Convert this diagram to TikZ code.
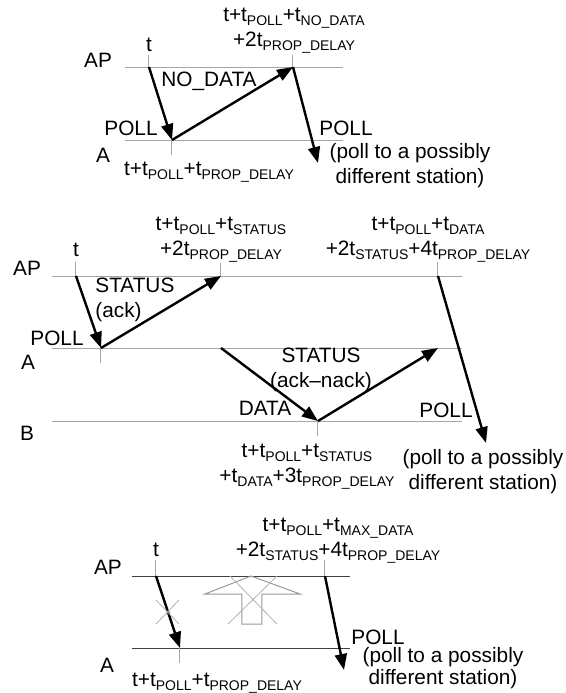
\documentclass[tikz,border=0pt]{standalone}
\usepackage{fontspec}
\setmainfont{Liberation Sans}
\usetikzlibrary{arrows.meta}
\newcommand{\tsub}[1]{t\raisebox{-0.35ex}{\fontsize{7}{8}\selectfont #1}}

\begin{document}
\begin{tikzpicture}[x=0.5pt,y=-0.5pt,
    every node/.style={font=\fontsize{10.4}{12.5}\selectfont, inner sep=0pt, align=center},
    timeline/.style={gray!70, line width=0.5pt},
    timetick/.style={gray!70, line width=0.5pt},
    msg/.style={line width=1.2pt, -{Triangle[length=8pt,width=6pt]}},
    crossout/.style={gray!60, line width=0.4pt}]
    \useasboundingbox (0,0) rectangle (566,693);

    % Panel 1: no data
    \draw[timeline] (125,67) -- (343,67);
    \draw[timeline] (125,140) -- (343,140);
    \node (apone) at (98,60) {AP};
    \node (aone) at (103,155) {A};
    \coordinate (pollone) at (149,67);
    \coordinate (recvone) at (172,140);
    \coordinate (nodataone) at (293,67);
    \coordinate (nextone) at (318,163);
    \draw[timetick] (149,55) -- (pollone);
    \draw[timetick] (recvone) -- (172,155);
    \draw[timetick] (293,55) -- (nodataone);
    \draw[msg] (pollone) -- (recvone);
    \draw[msg] (recvone) -- (nodataone);
    \draw[msg] (nodataone) -- (nextone);
    \node (tone) at (149,45) {t};
    \node (pollabone) at (131,128) {POLL};
    \node (nodatalab) at (209,81) {NO\_DATA};
    \node (topone) at (294,31) {t+\tsub{POLL}+\tsub{NO\_DATA}\\+2\tsub{PROP\_DELAY}};
    \node (nextlabone) at (346,128) {POLL};
    \node (noteone) at (410,166) {(poll to a possibly\\different station)};
    \node (botone) at (209,172) {t+\tsub{POLL}+\tsub{PROP\_DELAY}};

    % Panel 2: data with status
    \draw[timeline] (52,276) -- (462,276);
    \draw[timeline] (52,348) -- (462,348);
    \draw[timeline] (52,421) -- (462,421);
    \node (aptwo) at (27,268) {AP};
    \node (atwo) at (28,362) {A};
    \node (btwo) at (27,433) {B};
    \coordinate (polltwo) at (76,276);
    \coordinate (recvtwo) at (101,348);
    \coordinate (acktwo) at (221,276);
    \coordinate (datatwo) at (221,348);
    \coordinate (recvdata) at (318,421);
    \coordinate (acknack) at (438,348);
    \coordinate (nextpoll) at (438,276);
    \coordinate (nexttwo) at (486,443);
    \draw[timetick] (76,262) -- (polltwo);
    \draw[timetick] (recvtwo) -- (101,363);
    \draw[timetick] (221,263) -- (acktwo);
    \draw[timetick] (recvdata) -- (318,436);
    \draw[timetick] (438,262) -- (nextpoll);
    \draw[msg] (polltwo) -- (recvtwo);
    \draw[msg] (recvtwo) -- (acktwo);
    \draw[msg] (datatwo) -- (recvdata);
    \draw[msg] (recvdata) -- (acknack);
    \draw[msg] (nextpoll) -- (nexttwo);
    \node (ttwo) at (76,250) {t};
    \node (pollabtwo) at (57,338) {POLL};
    \node[anchor=west, align=left] (statuslab) at (95,300) {STATUS\\(ack)};
    \node (toptwo) at (221,240) {t+\tsub{POLL}+\tsub{STATUS}\\+2\tsub{PROP\_DELAY}};
    \node (datalab) at (265,408) {DATA};
    \node (nacklab) at (321,370) {STATUS\\(ack--nack)};
    \node (bottwo) at (307,467) {t+\tsub{POLL}+\tsub{STATUS}\\+\tsub{DATA}+3\tsub{PROP\_DELAY}};
    \node (righttwo) at (428,240) {t+\tsub{POLL}+\tsub{DATA}\\+2\tsub{STATUS}+4\tsub{PROP\_DELAY}};
    \node (nextlabtwo) at (446,410) {POLL};
    \node (notetwo) at (483,472) {(poll to a possibly\\different station)};

    % Panel 3: lost poll
    \draw[timeline, black!75] (132,576) -- (350,576);
    \draw[timeline, black!75] (132,648) -- (350,648);
    \node (apthree) at (108,567) {AP};
    \node (athree) at (107,665) {A};
    \coordinate (pollthree) at (156,576);
    \coordinate (recvthree) at (180,648);
    \coordinate (timeout) at (325,576);
    \coordinate (nextthree) at (344,670);
    \draw[timetick] (156,560) -- (pollthree);
    \draw[timetick] (recvthree) -- (180,663);
    \draw[timetick] (325,560) -- (timeout);
    \draw[msg] (pollthree) -- (recvthree);
    \draw[msg] (timeout) -- (nextthree);
    % crossed out reply
    \draw[crossout] (156,600) -- (179,624) (156,624) -- (179,600);
    \draw[gray!80, line width=0.5pt] (251,576) -- (300,594) -- (262,594) -- (262,624)
        -- (242,624) -- (242,594) -- (205,594) -- cycle;
    \draw[crossout] (230,576) -- (277,624) (277,576) -- (228,624);
    \node (tthree) at (156,550) {t};
    \node (topthree) at (338,541) {t+\tsub{POLL}+\tsub{MAX\_DATA}\\+2\tsub{STATUS}+4\tsub{PROP\_DELAY}};
    \node (nextlabthree) at (378,637) {POLL};
    \node[font=\fontsize{10.4}{5.5}\selectfont] (notethree) at (443,668) {(poll to a possibly\\different station)};
    \node (botthree) at (217,683) {t+\tsub{POLL}+\tsub{PROP\_DELAY}};
\end{tikzpicture}
\end{document}
